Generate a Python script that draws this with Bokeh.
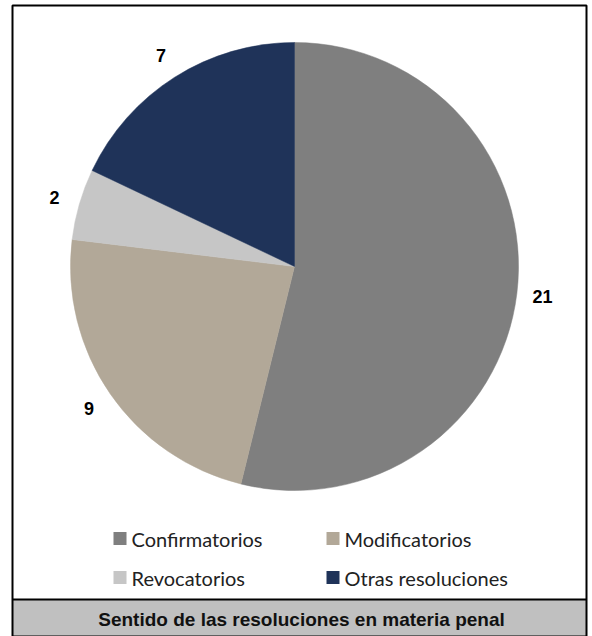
import math
from bokeh.plotting import figure
from bokeh.models import Range1d
from bokeh.core.properties import value
from bokeh.embed import file_html
from bokeh.resources import INLINE

categories = ["Confirmatorios", "Modificatorios", "Revocatorios", "Otras resoluciones"]
counts = [21, 9, 2, 7]
colors = ["#7f7f7f", "#b2a898", "#c6c6c6", "#1f3359"]
title_text = "Sentido de las resoluciones en materia penal"

W, H = 592, 636
p = figure(width=W, height=H, output_backend="svg", toolbar_location=None,
           x_range=Range1d(0, W), y_range=Range1d(-H, 0),
           min_border=0, outline_line_color=None)
p.axis.visible = False
p.grid.visible = False
p.background_fill_color = "white"
p.border_fill_color = "white"

# frame
left, right, top, bottom = 12, 586, 5, 636
sep = 599
p.quad(left=[left], right=[right], top=[-sep], bottom=[-bottom],
       fill_color="#c0c0c0", line_color=None)
p.line([left, right], [-sep, -sep], line_color="black", line_width=2)
p.line([left, left, right, right, left], [-bottom, -top, -top, -bottom, -bottom],
       line_color="black", line_width=2)
p.text([(left + right) / 2 + 2], [-(sep + bottom) / 2 - 1], text=[title_text],
       text_font=value("Liberation Sans"), text_font_style="bold",
       text_font_size="19px", text_align="center", text_baseline="middle",
       text_color="#111111")

# pie
cx, cy, R = 294, -266, 224
total = sum(counts)
cum = 0
starts, ends, mids = [], [], []
for c in counts:
    a0 = math.pi / 2 - 2 * math.pi * cum / total
    cum += c
    a1 = math.pi / 2 - 2 * math.pi * cum / total
    starts.append(a0)
    ends.append(a1)
    mids.append((a0 + a1) / 2)

p.wedge(x=[cx] * len(counts), y=[cy] * len(counts), radius=R,
        start_angle=starts, end_angle=ends, direction="clock",
        fill_color=colors, line_color=colors, line_width=0.5)

lr = R * 1.115
lx = [cx + lr * math.cos(m) for m in mids]
ly = [cy + lr * math.sin(m) for m in mids]
p.text(lx, ly, text=[str(c) for c in counts],
       text_font=value("Liberation Sans"), text_font_style="bold",
       text_font_size="18px", text_align="center", text_baseline="middle",
       text_color="black")

# legend
col_x = [113, 326]
row_y = [538, 577]
sq_x, sq_y, tx, ty = [], [], [], []
for i, name in enumerate(categories):
    col, row = i % 2, i // 2
    sq_x.append(col_x[col] + 6.5)
    sq_y.append(-row_y[row])
    tx.append(col_x[col] + 18)
    ty.append(-row_y[row])
p.scatter(sq_x, sq_y, marker="square", size=13, fill_color=colors, line_color=None)
p.text(tx, ty, text=categories, text_font=value("Lato"), text_font_size="20px",
       text_align="left", text_baseline="middle", text_color="#222222")

open("out.html", "w").write(file_html(p, INLINE))
